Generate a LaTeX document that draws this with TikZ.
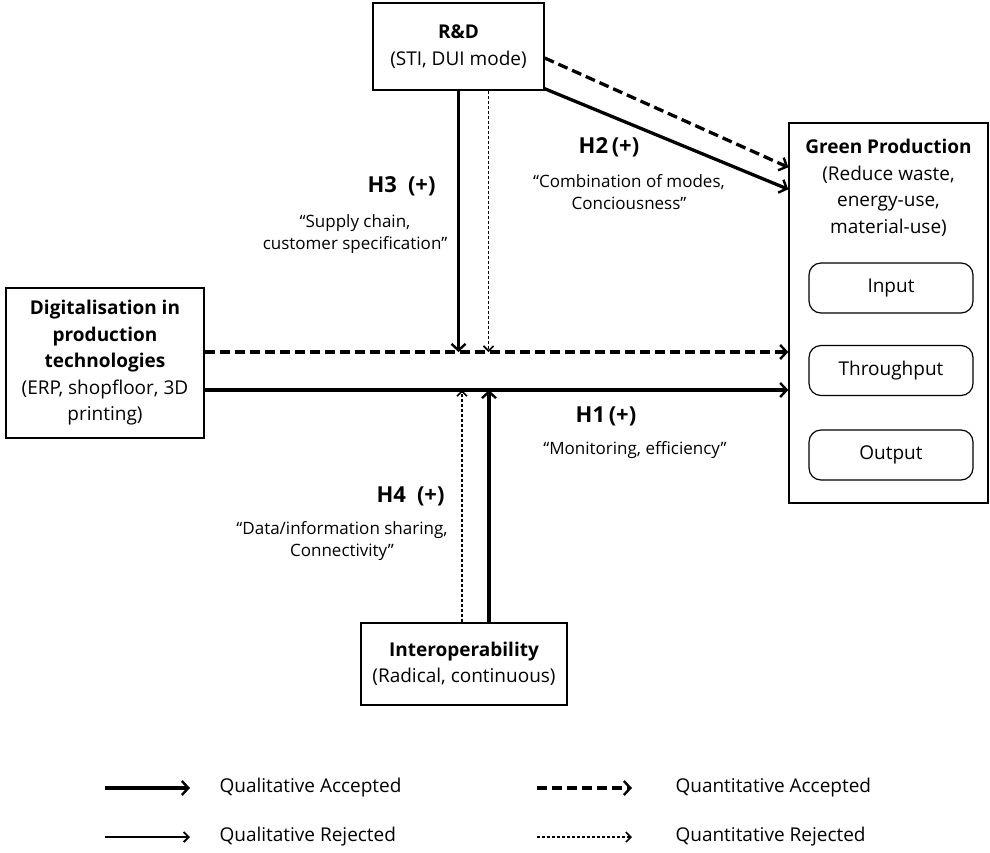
\documentclass[tikz,border=0pt]{standalone}
\usepackage{fontspec}
\setmainfont{Open Sans}
\usetikzlibrary{arrows.meta,calc}
\newcommand{\boxfont}{\fontsize{19}{26.5}\selectfont}
\newcommand{\quotefont}{\fontsize{17}{22}\selectfont}
\newcommand{\hypfont}{\fontsize{22}{24}\selectfont\bfseries}
\tikzset{
  box/.style={draw, line width=1.4pt, align=center, inner sep=0pt},
  pill/.style={draw, line width=1.2pt, rounded corners=12pt, minimum width=164pt, minimum height=50pt, font=\boxfont},
  qa/.style={line width=3.3pt, -{Straight Barb[length=6.5pt,width=14pt,line width=2.4pt]}},
  qr/.style={line width=1.8pt, -{Straight Barb[length=5pt,width=10pt,line width=1.8pt]}},
  na/.style={line width=3.3pt, dash pattern=on 10pt off 5pt, -{Straight Barb[length=6.5pt,width=14pt,line width=2.4pt]}},
  nr/.style={line width=1.3pt, dash pattern=on 3pt off 2pt, -{Straight Barb[length=5pt,width=10pt,line width=1.6pt]}},
  lbl/.style={font=\quotefont, align=center, inner sep=0pt}
}
\begin{document}
\begin{tikzpicture}[x=1pt,y=-1pt]
\useasboundingbox (0,0) rectangle (990,852);

% boxes
\node[box, minimum width=171pt, minimum height=87pt, font=\boxfont] (rd) at (458.5,46.5)
  {\textbf{R\&D}\\(STI, DUI mode)};
\node[box, minimum width=198pt, minimum height=150pt, font=\boxfont] (dig) at (105,363)
  {\textbf{Digitalisation in}\\\textbf{production}\\\textbf{technologies}\\(ERP, shopfloor, 3D\\printing)};
\node[box, minimum width=206pt, minimum height=82pt, font=\boxfont] (inter) at (464,664)
  {\textbf{Interoperability}\\(Radical, continuous)};
\node[box, minimum width=199pt, minimum height=380pt] (gp) at (888.5,313) {};
\node[font=\boxfont, align=center, anchor=north, inner sep=0pt] (gpt) at (888.5,139)
  {\textbf{Green Production}\\(Reduce waste,\\energy-use,\\material-use)};
\node[pill] (inp) at (891,288) {Input};
\node[pill] (thr) at (891,370.5) {Throughput};
\node[pill] (outp) at (891,455) {Output};

% arrow end points
\coordinate (d1) at ([yshift=11pt]dig.east);
\coordinate (d2) at ([yshift=-27pt]dig.east);
\coordinate (r1) at (rd.south);
\coordinate (r2) at ([xshift=30pt]rd.south);
\coordinate (i1) at ([xshift=25pt]inter.north);
\coordinate (i2) at ([xshift=-2pt]inter.north);

\draw[na] (d1) -- (d1 -| gp.west);
\draw[qa] (d2) -- (d2 -| gp.west);
\draw[qa] (r1) -- (r1 |- d1);
\draw[nr] (r2) -- (r2 |- d1);
\draw[qa] (i1) -- (i1 |- d2);
\draw[nr] (i2) -- (i2 |- d2);
\draw[na] ([yshift=-11.5pt]rd.east) -- ([yshift=-45pt]gp.north west);
\draw[qa] ([yshift=2pt]rd.south east) -- ([yshift=-67pt]gp.north west);

% hypotheses
\node[font=\hypfont, anchor=east] (h3) at (439,186) {H3\enspace(+)};
\node[lbl] (h3q) at (355,234) {``Supply chain,\\customer specification''};
\node[font=\hypfont] (h2) at (609,147) {H2\,(+)};
\node[lbl] (h2q) at (629,192) {``Combination of modes,\\Conciousness''};
\node[font=\hypfont] (h1) at (606,416) {H1\,(+)};
\node[lbl] (h1q) at (635,450) {``Monitoring, efficiency''};
\node[font=\hypfont, anchor=east] (h4) at (448,496) {H4\enspace(+)};
\node[lbl] (h4q) at (342,541) {``Data/information sharing,\\Connectivity''};

% legend
\coordinate (la1) at (105,788); \coordinate (la2) at (190,788);
\coordinate (lb1) at (105,837); \coordinate (lb2) at (190,837);
\coordinate (lc1) at (537,788); \coordinate (lc2) at (632,788);
\coordinate (ld1) at (537,837); \coordinate (ld2) at (632,837);
\draw[qa] (la1) -- (la2);
\draw[qr] (lb1) -- (lb2);
\draw[na] (lc1) -- (lc2);
\draw[nr] (ld1) -- (ld2);
\node[font=\boxfont, anchor=west] (lqa) at (216,788) {Qualitative Accepted};
\node[font=\boxfont, anchor=west] (lqr) at (216,837) {Qualitative Rejected};
\node[font=\boxfont, anchor=west] (lna) at (672,788) {Quantitative Accepted};
\node[font=\boxfont, anchor=west] (lnr) at (672,837) {Quantitative Rejected};
\end{tikzpicture}
\end{document}
